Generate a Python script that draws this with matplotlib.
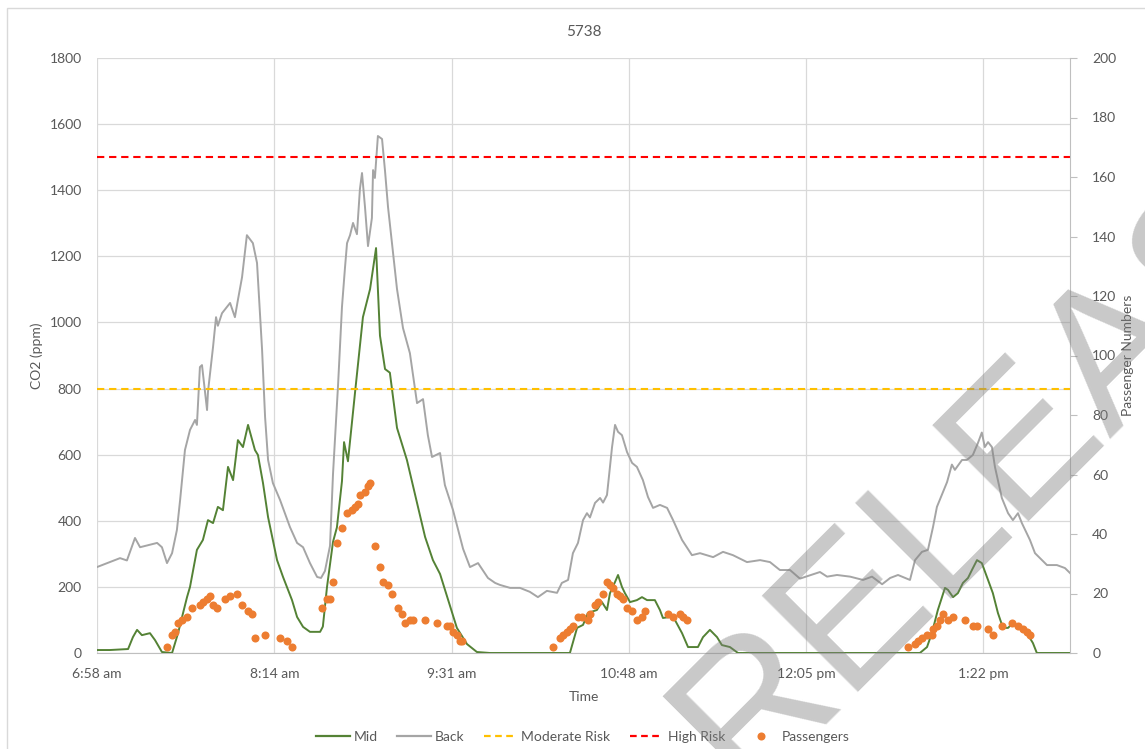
import matplotlib
matplotlib.use("Agg")
import matplotlib.pyplot as plt
from matplotlib.lines import Line2D
from matplotlib.patches import Rectangle

plt.rcParams['font.family'] = ['Lato', 'DejaVu Sans']

# time in minutes after 6:58 am
tick_pos = [0, 77, 154, 231, 308, 385]
tick_labels = ["6:58 am", "8:14 am", "9:31 am", "10:48 am", "12:05 pm", "1:22 pm"]

back_t = [0, 5.6, 10, 13, 16.5, 18.7, 26.1, 28.2, 30.4, 32.6, 34.7, 36.1, 38.2, 40.4, 42.6, 43.4,
          44.7, 45.6, 47.8, 48.2, 50.4, 51.7, 52.5, 54.3, 57.8, 59.9, 61.2, 63.0, 65.1, 67.7, 69.5,
          71.7, 73.0, 74.3, 76.4, 79.5, 83.8, 86.9, 89.5, 92.5, 95.6, 97.3, 99.0, 101.2, 102.5,
          104.7, 106.4, 107.7, 108.6, 109.9, 111.2, 112.9, 114.2, 115.1, 116.4, 117.7, 119.4, 119.9,
          120.7, 122.0, 123.8, 125.1, 126.4, 130.3, 132.9, 135.9, 139.0, 141.6, 143.7, 145.5, 149.0,
          151.1, 154.6, 159.0, 162.0, 165.5, 169.8, 172.9, 175.0, 179.4, 183.7, 188.0, 191.5, 195.4,
          199.8, 201.9, 204.6, 206.7, 208.9, 211.1, 212.8, 214.1, 216.3, 218.5, 219.8, 221.5, 223.7,
          225.0, 226.3, 228.0, 230.2, 232.4, 234.5, 237.1, 239.3, 241.5, 244.5, 247.6, 250.2, 254.1,
          258.4, 261.9, 267.6, 271.9, 276.2, 282.3, 288.0, 292.3, 296.6, 301.0, 305.3, 309.7, 314.0,
          317.1, 321.4, 327.1, 332.7, 336.6, 341.0, 344.5, 347.9, 353.1, 355.3, 358.3, 360.9, 363.1,
          364.8, 369.2, 371.3, 372.6, 375.7, 377.8, 380.4, 382.6, 384.3, 385.6, 387.0, 388.7, 390.0,
          393.0, 395.7, 397.8, 400.0, 401.7, 405.2, 407.4, 412.6, 416.9, 420.4, 422.6]
back_ppm = [260, 275, 287, 280, 348, 320, 333, 320, 272, 302, 372, 463, 614, 675, 705, 690,
            865, 871, 735, 790, 926, 1016, 990, 1028, 1059, 1016, 1068, 1137, 1264, 1240, 1180,
            917, 714, 584, 514, 463, 381, 333, 320, 272, 230, 227, 248, 324, 541,
            811, 1047, 1165, 1240, 1264, 1301, 1267, 1404, 1452, 1349, 1231, 1316, 1461,
            1437, 1564, 1555, 1458, 1349, 1101, 983, 907, 756, 768, 659, 593, 605,
            508, 433, 315, 260, 272, 227, 212, 206, 197, 197, 185, 169, 188,
            182, 212, 221, 302, 333, 402, 423, 410, 454, 469, 455, 478, 623,
            690, 669, 659, 608, 575, 563, 523, 472, 439, 448, 439, 402, 342,
            296, 302, 290, 306, 296, 275, 281, 275, 251, 251, 225, 235, 245,
            231, 236, 231, 221, 231, 208, 227, 236, 221, 281, 306, 312, 381,
            442, 517, 570, 554, 584, 584, 599, 635, 667, 623, 638, 623, 563,
            469, 423, 402, 423, 393, 342, 302, 266, 266, 257, 242]

mid_t = [0, 5.6, 13.5, 15.6, 17.4, 19.5, 23.0, 25.2, 28.2, 32.6, 35.2, 39.1, 40.4, 43.4, 46.0,
         48.2, 50.4, 52.5, 54.7, 56.9, 59.1, 61.2, 63.4, 65.6, 68.6, 69.9, 72.1, 74.3, 78.2, 80.8,
         84.7, 86.9, 89.5, 92.5, 96.9, 98.1, 99.9, 102.5, 104.2, 106.4, 107.3, 109.0, 112.1, 115.5,
         118.6, 121.2, 122.9, 125.1, 127.2, 130.3, 134.6, 139.0, 142.5, 145.9, 149.0, 152.0, 156.3,
         160.7, 165.0, 170.7, 205.4, 208.5, 211.1, 213.2, 217.1, 219.3, 221.5, 222.8, 225.0, 226.3,
         228.0, 229.3, 231.5, 234.5, 236.7, 238.9, 242.3, 244.5, 245.8, 248.9, 251.0, 254.1, 256.7,
         261.0, 263.2, 266.2, 269.3, 271.4, 274.9, 278.4, 357.4, 360.5, 362.6, 365.2, 368.3, 369.6,
         371.8, 373.9, 376.1, 378.3, 380.0, 382.2, 384.3, 387.0, 389.1, 391.3, 393.5, 395.7, 397.8,
         400.9, 403.9, 406.5, 408.2, 422.6]
mid_ppm = [9, 9, 12, 48, 70, 54, 60, 39, 3, 0, 60, 169, 200, 312, 342,
           402, 393, 442, 432, 563, 523, 644, 623, 690, 614, 599, 514, 411, 281, 230,
           160, 109, 79, 64, 64, 80, 200, 336, 380, 520, 638, 580, 790, 1016,
           1101, 1225, 960, 859, 848, 681, 584, 454, 351, 281, 239, 172, 76,
           27, 3, 0, 0, 76, 85, 121, 130, 154, 130, 181, 215, 236,
           200, 181, 154, 160, 169, 160, 160, 130, 106, 109, 100, 60, 18,
           18, 48, 70, 48, 24, 18, 0, 0, 18, 60, 130, 197, 191,
           169, 181, 212, 227, 251, 281, 272, 221, 181, 121, 76, 76, 91,
           79, 60, 30, 0, 0]

pax_t = [30.3, 32.4, 33.9, 35.3, 36.8, 39.0, 41.1, 44.7, 46.2, 47.6, 49.1, 50.5, 52.0, 55.6,
         57.8, 60.7, 62.8, 65.7, 67.2, 68.6, 73.0, 79.5, 82.4, 84.6,
         97.6, 99.7, 101.2, 102.6, 104.1, 106.3, 108.4, 110.6, 112.0, 113.5, 114.2, 116.4, 117.8,
         118.6, 120.7, 122.9, 124.3, 126.5, 128.0, 130.9, 132.3, 133.8, 135.9, 137.4, 142.4, 147.5,
         151.9, 153.3, 154.7, 156.2, 157.6, 158.4,
         198.0, 201.1, 202.4, 204.1, 205.4, 206.7, 208.9, 210.6, 213.2, 214.1, 216.3, 217.6, 219.8,
         221.5, 222.8, 224.1, 225.8, 227.1, 228.4, 230.2, 232.4, 234.5, 236.7, 238.0, 248.0, 250.2,
         253.2, 254.6, 256.3,
         352.2, 355.3, 356.6, 358.3, 360.5, 362.6, 363.1, 364.8, 366.2, 367.4, 369.6, 371.8, 377.0,
         380.4, 382.2, 387.0, 389.1, 393.0, 397.4, 400.0, 402.2, 403.9, 405.2]
pax_n = [2, 6, 7, 10, 11, 12, 15, 16, 17, 18, 19, 16, 15, 18,
         19, 20, 16, 14, 13, 5, 6, 5, 4, 2,
         15, 18, 18, 24, 37, 42, 47, 48, 49, 50, 53, 54, 56,
         57, 36, 29, 24, 23, 20, 15, 13, 10, 11, 11, 11, 10,
         9, 9, 7, 6, 4, 4,
         2, 5, 6, 7, 8, 9, 12, 12, 11, 13, 16, 17, 20,
         24, 23, 22, 20, 19, 18, 15, 14, 11, 12, 14, 13, 12,
         13, 12, 11,
         2, 3, 4, 5, 6, 6, 8, 9, 11, 13, 11, 12, 11,
         9, 9, 8, 6, 9, 10, 9, 8, 7, 6]

moderate_risk = 800
high_risk = 1500

txt = '#595959'
grid_c = '#D9D9D9'

fig = plt.figure(figsize=(11.45, 7.49), dpi=100)
ax = fig.add_axes([97 / 1145, 1 - 653 / 749, (1070 - 97) / 1145, (653 - 58) / 749])

ax.plot(mid_t, mid_ppm, color='#548235', lw=1.4, label='Mid', zorder=3)
ax.plot(back_t, back_ppm, color='#A5A5A5', lw=1.4, label='Back', zorder=2)
ax.axhline(moderate_risk, color='#FFC000', lw=1.5, ls=(0, (3.5, 2.3)), zorder=4)
ax.axhline(high_risk, color='#FF0000', lw=1.5, ls=(0, (3.5, 2.3)), zorder=4)

ax.set_xlim(0, 422.6)
ax.set_ylim(0, 1800)
ax.set_yticks(range(0, 1801, 200))
ax.set_xticks(tick_pos)
ax.set_xticklabels(tick_labels)
ax.grid(True, color=grid_c, lw=0.9, zorder=0)
ax.set_axisbelow(True)
for s in ['top', 'right', 'left']:
    ax.spines[s].set_visible(False)
ax.spines['bottom'].set_color('#BFBFBF')
ax.tick_params(axis='both', length=0, labelsize=10, colors=txt)
ax.tick_params(axis='x', pad=11)
ax.tick_params(axis='y', pad=11)
ax.set_ylabel('CO2 (ppm)', fontsize=10, color=txt, labelpad=5)
ax.set_xlabel('Time', fontsize=10, color=txt, labelpad=8)
ax.set_title('5738', fontsize=11, color=txt, pad=16)

ax2 = ax.twinx()
ax2.plot(pax_t, pax_n, 'o', color='#ED7D31', ms=5.8, mec='none', zorder=5)
ax2.set_ylim(0, 200)
ax2.set_yticks(range(0, 201, 20))
for s in ['top', 'left', 'bottom']:
    ax2.spines[s].set_visible(False)
ax2.spines['right'].set_color('#BFBFBF')
ax2.tick_params(axis='y', length=5, labelsize=10, pad=11, colors='#BFBFBF', labelcolor=txt)
ax2.set_ylabel('Passenger Numbers', fontsize=10, color=txt, labelpad=4)

handles = [
    Line2D([], [], color='#548235', lw=1.6),
    Line2D([], [], color='#A5A5A5', lw=1.6),
    Line2D([], [], color='#FFC000', lw=1.6, ls=(0, (3, 2))),
    Line2D([], [], color='#FF0000', lw=1.6, ls=(0, (3, 2))),
    Line2D([], [], color='#ED7D31', marker='o', ls='none', ms=5.8, mec='none'),
]
fig.legend(handles, ['Mid', 'Back', 'Moderate Risk', 'High Risk', 'Passengers'],
           loc='center', bbox_to_anchor=(583 / 1145, 1 - 737 / 749), ncol=5, frameon=False,
           fontsize=10, labelcolor=txt, handlelength=2.4, handletextpad=0.3, columnspacing=1.4)

fig.patches.append(Rectangle((7 / 1145, -0.1), 1.2, 1 - 8 / 749 + 0.1, transform=fig.transFigure,
                             fill=False, ec='#D9D9D9', lw=1))

# watermark across the lower right
fig.text(742 / 1145, 1 - 792 / 749, 'RELEASED', rotation=45, rotation_mode='anchor',
         ha='left', va='baseline', fontsize=142, family='Liberation Sans',
         color='#7F7F7F', alpha=0.42, zorder=10)

fig.savefig('out.png', dpi=100)
